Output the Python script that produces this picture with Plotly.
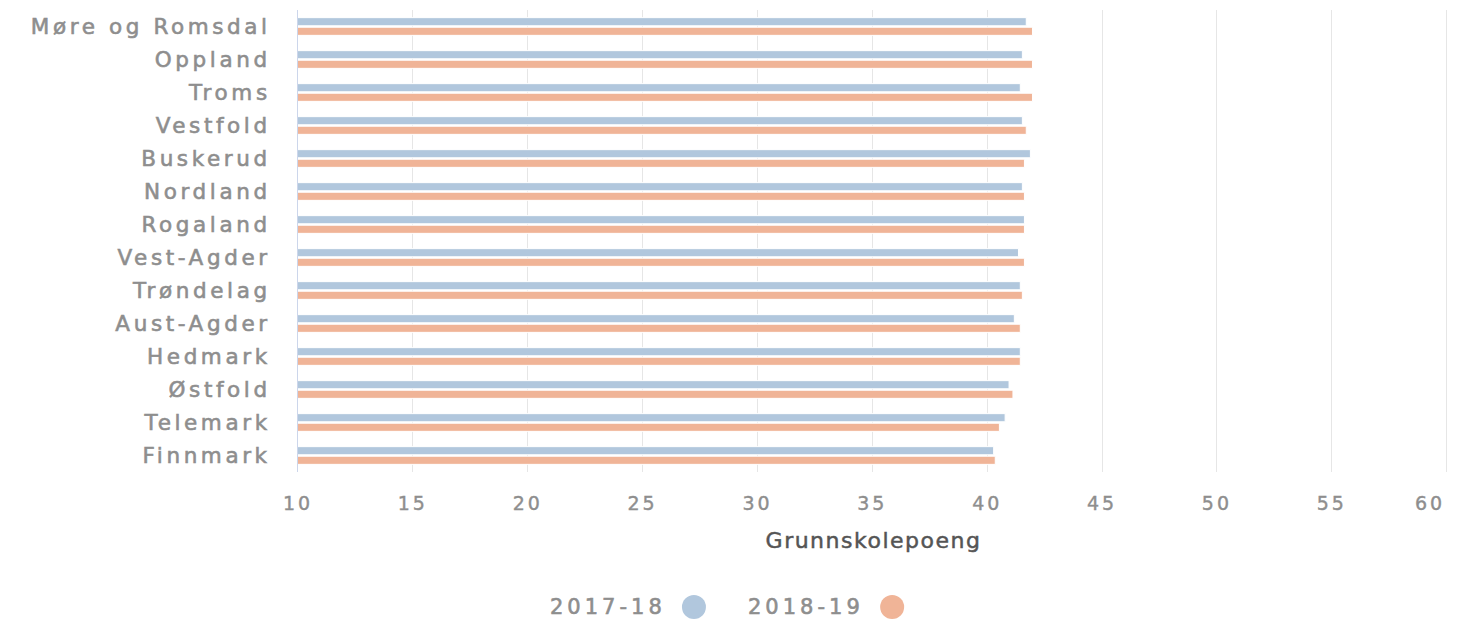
import plotly.graph_objects as go

categories = ["Møre og Romsdal", "Oppland", "Troms", "Vestfold", "Buskerud", "Nordland",
              "Rogaland", "Vest-Agder", "Trøndelag", "Aust-Agder", "Hedmark", "Østfold",
              "Telemark", "Finnmark"]
v2017 = [41.70, 41.53, 41.44, 41.53, 41.88, 41.53, 41.62, 41.36, 41.44, 41.18, 41.44, 40.95, 40.78, 40.28]
v2018 = [41.97, 41.97, 41.97, 41.70, 41.62, 41.62, 41.62, 41.62, 41.53, 41.44, 41.44, 41.12, 40.53, 40.35]
series_names = ["2017-18", "2018-19"]
colors = ["#b1c7dd", "#f0b497"]
x_ticks = [10, 15, 20, 25, 30, 35, 40, 45, 50, 55, 60]

GRAY = "#8e8e8e"
DARK = "#555555"


def spaced(t, px, col=GRAY, sw=0.6):
    return (f"<span style='letter-spacing:{px}px;stroke:{col};"
            f"stroke-width:{sw}px'>{t}</span>")


# last tick label is drawn separately, right-aligned to its grid line (kept inside the chart)
x_ticktext = [spaced(t, 3, sw=0.4) for t in x_ticks[:-1]] + [""]

fig = go.Figure()
for name, vals, col in zip(series_names, [v2017, v2018], colors):
    fig.add_trace(go.Bar(
        y=categories, x=vals, name=name, orientation="h",
        marker=dict(color=col, line=dict(color="white", width=1)),
        showlegend=False,
    ))

fig.update_layout(
    width=1456, height=615,
    paper_bgcolor="white", plot_bgcolor="white",
    margin=dict(l=290, r=15, t=2, b=151),
    barmode="group", bargap=0.42, bargroupgap=0.15,
    font=dict(family="DejaVu Sans", color=GRAY),
    xaxis=dict(
        range=[10, 60.1], tickvals=x_ticks, ticktext=x_ticktext,
        showgrid=True, gridcolor="#e6e6e6", gridwidth=1, zeroline=False,
        tickfont=dict(size=19, color=GRAY, family="DejaVu Sans"),
        ticklabelstandoff=18, automargin=False,
        title=dict(text=spaced("Grunnskolepoeng", 1.5, col=DARK, sw=0.5),
                   font=dict(size=22, color=DARK, family="DejaVu Sans"), standoff=19),
        showline=False,
    ),
    yaxis=dict(
        autorange="reversed", showgrid=False, zeroline=False, automargin=False,
        showline=True, linecolor="#ccd6eb", linewidth=1,
        tickvals=categories, ticktext=[spaced(c, 3.6) for c in categories],
        tickfont=dict(size=21.5, color=GRAY, family="DejaVu Sans"),
        ticklabelstandoff=22,
    ),
)

fig.add_annotation(
    xref="x", yref="paper", x=x_ticks[-1], y=-0.067, xanchor="right", yanchor="middle",
    showarrow=False, text=spaced(str(x_ticks[-1]), 3, sw=0.4),
    font=dict(size=19, color=GRAY, family="DejaVu Sans"),
)

# legend: label text followed by a coloured circle (as in the reference)
legend_text_x = [0.3214, 0.4935]
legend_dot_x = [0.3440, 0.5162]
dot_w = 24 / 1151
dot_h = 24 / 462
ly = -0.292
for name, col, tx, dx in zip(series_names, colors, legend_text_x, legend_dot_x):
    fig.add_annotation(
        xref="paper", yref="paper", x=tx, y=ly, xanchor="right", yanchor="middle",
        showarrow=False, text=spaced(name, 4),
        font=dict(size=21, color=GRAY, family="DejaVu Sans"),
    )
    fig.add_shape(
        type="circle", xref="paper", yref="paper",
        x0=dx - dot_w / 2, x1=dx + dot_w / 2, y0=ly - dot_h / 2, y1=ly + dot_h / 2,
        fillcolor=col, line=dict(width=0),
    )

fig.write_html("out.html")
